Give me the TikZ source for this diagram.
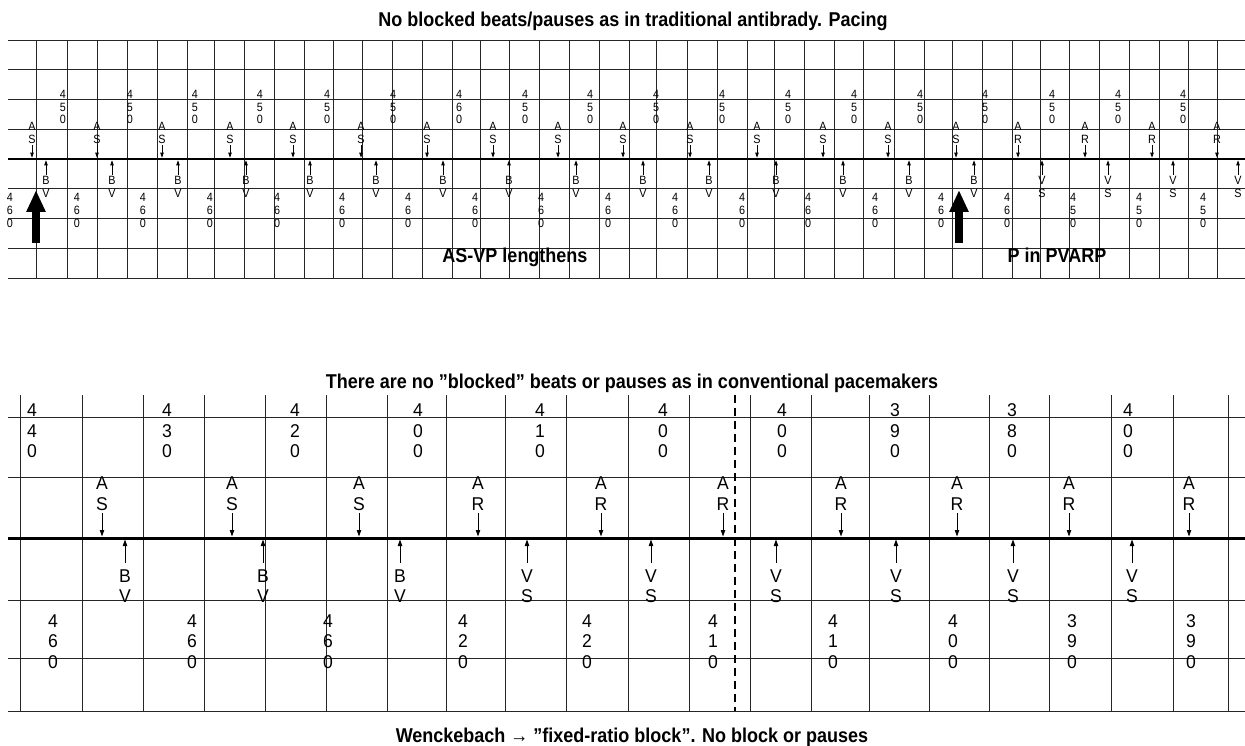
\documentclass[tikz,border=0pt]{standalone}
\usepackage{fontspec}
\setmainfont{Liberation Sans}[FakeStretch=0.9]
\newfontfamily\lblfont{Liberation Sans}[FakeStretch=0.95]
\usetikzlibrary{arrows.meta}
\tikzset{
  gline/.style={line width=0.8pt, black!85},
  baseln/.style={line width=2.6pt},
  smalltxt/.style={font=\fontsize{12}{12.8}\selectfont, align=center, inner sep=0pt},
  largetxt/.style={font=\lblfont\fontsize{18.5}{20.5}\selectfont, align=center, inner sep=0pt},
  ttl/.style={font=\fontsize{20}{24}\selectfont\bfseries, inner sep=0pt, anchor=base},
  sarr/.style={line width=0.8pt, -{Triangle[length=5pt,width=3.4pt]}},
  larr/.style={line width=0.9pt, -{Triangle[length=6.5pt,width=4.4pt]}},
  bigarr/.style={line width=8.4pt, -{Triangle[length=22pt,width=18pt]}},
  dashln/.style={line width=1.3pt, dash pattern=on 8pt off 5pt},
}
\begin{document}
\begin{tikzpicture}[x=1pt,y=-1pt]
\useasboundingbox (0,0) rectangle (1245,746);

% ---------------- titles ----------------
\node[ttl] (t1) at (633,27) {No blocked beats/pauses as in traditional antibrady. Pacing};
\node[ttl] (t2) at (632,388) {There are no ”blocked” beats or pauses as in conventional pacemakers};
\node[ttl] (t3) at (632,742) {Wenckebach → ”fixed-ratio block”. No block or pauses};

% ---------------- top panel grid ----------------
\foreach \x in {36,67,97,127,157,187,214,244,274,304,333,362,392,422,452,480,509,539,569,599,629,656,687,717,747,774,804,834,863,894,924,952,982,1012,1040,1069,1099,1129,1159,1188,1217}
  \draw[gline] (\x,40) -- (\x,278);
\foreach \y in {40,69.75,99.5,129.25,188.75,218.5,248.25,278} \draw[gline] (8,\y) -- (1245,\y);
\coordinate (tbL) at (8,159);
\coordinate (tbR) at (1245,159);
\draw[baseln] (tbL) -- (tbR);

% atrial events (top)
\foreach \x/\p/\q [count=\i] in {32/A/S,97/A/S,162/A/S,230/A/S,293/A/S,361/A/S,427/A/S,493/A/S,558/A/S,623/A/S,690/A/S,757/A/S,823/A/S,888/A/S,956/A/S,1018/A/R,1085/A/R,1152/A/R,1217/A/R}{
  \node[smalltxt] (ta\i) at (\x,133) {\p\\\q};
  \draw[sarr, shorten <=1pt, shorten >=1.3pt] (ta\i) -- (ta\i |- tbL);
}
% ventricular events (top)
\foreach \x/\p/\q [count=\i] in {46/B/V,112/B/V,178/B/V,246/B/V,310/B/V,376/B/V,443/B/V,509/B/V,576/B/V,643/B/V,709/B/V,776/B/V,843/B/V,909/B/V,974/B/V,1042/V/S,1108/V/S,1173/V/S,1238/V/S}{
  \node[smalltxt] (tv\i) at (\x,187) {\p\\\q};
  \draw[sarr, shorten <=1.5pt, shorten >=1.3pt] (tv\i) -- (tv\i |- tbL);
}
% intervals above (top)
\foreach \x/\a/\b/\c [count=\i] in {63/4/5/0,130/4/5/0,195/4/5/0,260/4/5/0,327/4/5/0,393/4/5/0,459/4/6/0,525/4/5/0,590/4/5/0,656/4/5/0,722/4/5/0,788/4/5/0,854/4/5/0,920/4/5/0,985/4/5/0,1052/4/5/0,1118/4/5/0,1183/4/5/0}{
  \node[smalltxt] (tn\i) at (\x,107) {\a\\\b\\\c};
}
% intervals below (top)
\foreach \x/\a/\b/\c [count=\i] in {10/4/6/0,77/4/6/0,143/4/6/0,210/4/6/0,277/4/6/0,342/4/6/0,408/4/6/0,475/4/6/0,541/4/6/0,608/4/6/0,675/4/6/0,742/4/6/0,808/4/6/0,875/4/6/0,941/4/6/0,1007/4/6/0,1073/4/5/0,1139/4/5/0,1203/4/5/0}{
  \node[smalltxt] (tm\i) at (\x,210.5) {\a\\\b\\\c};
}
% big arrows
\coordinate (ba1b) at (36,243);
\coordinate (ba1t) at (36,190);
\coordinate (ba2b) at (959,243);
\coordinate (ba2t) at (959,190);
\draw[bigarr] (ba1b) -- (ba1t);
\draw[bigarr] (ba2b) -- (ba2t);
\node[ttl] (n1) at (515,262) {AS-VP lengthens};
\node[ttl] (n2) at (1057,262) {P in PVARP};

% ---------------- bottom panel grid ----------------
\foreach \x in {20,82,143,204,265,326,387,446,505,566,628,689,750,811,869,929,989,1049,1111,1173,1228}
  \draw[gline] (\x,395) -- (\x,711);
\foreach \y in {417,477,600,658,711} \draw[gline] (8,\y) -- (1245,\y);
\coordinate (bbL) at (8,538);
\coordinate (bbR) at (1245,538);
\draw[baseln, line width=3pt] (bbL) -- (bbR);
\coordinate (dT) at (735,395);
\coordinate (dB) at (735,711);
\draw[dashln] (dT) -- (dB);

% atrial events (bottom)
\foreach \x/\p/\q [count=\i] in {102/A/S,232/A/S,359/A/S,478/A/R,601/A/R,723/A/R,841/A/R,957/A/R,1069/A/R,1189/A/R}{
  \node[largetxt] (ba\i) at (\x,493.5) {\p\\\q};
  \draw[larr, shorten <=3pt, shorten >=1.5pt] (ba\i) -- (ba\i |- bbL);
}
% ventricular events (bottom)
\foreach \x/\p/\q [count=\i] in {125/B/V,263/B/V,400/B/V,527/V/S,651/V/S,776/V/S,896/V/S,1013/V/S,1132/V/S}{
  \node[largetxt] (bv\i) at (\x,586) {\p\\\q};
  \draw[larr, shorten <=6pt, shorten >=1.5pt] (bv\i) -- (bv\i |- bbL);
}
% intervals above (bottom)
\foreach \x/\a/\b/\c [count=\i] in {32/4/4/0,167/4/3/0,295/4/2/0,418/4/0/0,540/4/1/0,663/4/0/0,782/4/0/0,895/3/9/0,1012/3/8/0,1128/4/0/0}{
  \node[largetxt] (bn\i) at (\x,431) {\a\\\b\\\c};
}
% intervals below (bottom)
\foreach \x/\a/\b/\c [count=\i] in {53/4/6/0,192/4/6/0,328/4/6/0,463/4/2/0,587/4/2/0,713/4/1/0,833/4/1/0,953/4/0/0,1072/3/9/0,1191/3/9/0}{
  \node[largetxt] (bm\i) at (\x,641.5) {\a\\\b\\\c};
}
\end{tikzpicture}
\end{document}
